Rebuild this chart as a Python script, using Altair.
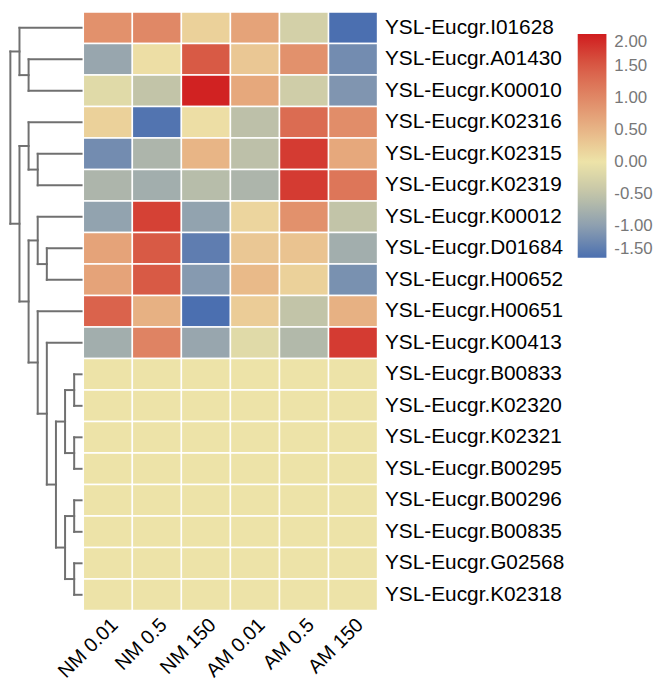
import altair as alt
import pandas as pd

genes = ["YSL-Eucgr.I01628", "YSL-Eucgr.A01430", "YSL-Eucgr.K00010", "YSL-Eucgr.K02316",
         "YSL-Eucgr.K02315", "YSL-Eucgr.K02319", "YSL-Eucgr.K00012", "YSL-Eucgr.D01684",
         "YSL-Eucgr.H00652", "YSL-Eucgr.H00651", "YSL-Eucgr.K00413", "YSL-Eucgr.B00833",
         "YSL-Eucgr.K02320", "YSL-Eucgr.K02321", "YSL-Eucgr.B00295", "YSL-Eucgr.B00296",
         "YSL-Eucgr.B00835", "YSL-Eucgr.G02568", "YSL-Eucgr.K02318"]
conditions = ["NM 0.01", "NM 0.5", "NM 150", "AM 0.01", "AM 0.5", "AM 150"]

zeros = [0.0] * 8
nm_001 = [0.9, -0.9, -0.15, 0.2, -1.2, -0.7, -0.95, 0.7, 0.7, 1.4, -0.8] + zeros
nm_05 = [1.0, 0.05, -0.5, -1.45, -0.7, -0.8, 1.7, 1.5, 1.5, 0.55, 1.05] + zeros
nm_150 = [0.2, 1.5, 1.95, 0.05, 0.5, -0.6, -0.95, -1.35, -1.05, -1.5, -0.9] + zeros
am_001 = [0.7, 0.3, 0.65, -0.55, -0.55, -0.7, 0.15, 0.3, 0.45, 0.25, -0.15] + zeros
am_05 = [-0.3, 0.9, -0.35, 1.3, 1.75, 1.75, 0.9, 0.35, 0.2, -0.5, -0.65] + zeros
am_150 = [-1.6, -1.2, -1.1, 0.95, 0.65, 1.2, -0.5, -0.8, -1.15, 0.55, 1.75] + zeros
series = [nm_001, nm_05, nm_150, am_001, am_05, am_150]

# dendrogram merges: leaves 0..18, new nodes numbered from 19 in order
merge_left = [1, 0, 4, 3, 7, 6, 11, 13, 25, 15, 17, 28, 27, 10, 9, 24, 22, 20]
merge_right = [2, 19, 5, 21, 8, 23, 12, 14, 26, 16, 18, 29, 30, 31, 32, 33, 34, 35]
merge_height = [6, 7, 5, 6, 4, 5, 1, 1, 2, 1, 1, 2, 3, 4, 5, 6, 7, 8]

color_stops = [-1.5, -1.0, -0.5, 0.0, 0.5, 1.0, 1.5, 2.0]
color_range = ["#4b6fb0", "#8d9fb0", "#c2c4a8", "#ede3a8", "#e8b586", "#e08866", "#d85a45", "#d01c1e"]

rows = []
for c, vals in zip(conditions, series):
    for g, v in zip(genes, vals):
        rows.append({"gene": g, "condition": c, "value": v})
df = pd.DataFrame(rows)

pos = {i: (i + 0.5, 0.0) for i in range(len(genes))}
segs = []
for k, (a, b, h) in enumerate(zip(merge_left, merge_right, merge_height)):
    ya, ha = pos[a]
    yb, hb = pos[b]
    segs.append({"x": h, "x2": h, "y": ya, "y2": yb})
    segs.append({"x": ha, "x2": h, "y": ya, "y2": ya})
    segs.append({"x": hb, "x2": h, "y": yb, "y2": yb})
    pos[len(genes) + k] = ((ya + yb) / 2, h)
seg_df = pd.DataFrame(segs)

H = 604

dendro = alt.Chart(seg_df).mark_rule(color="#707070", strokeWidth=2, strokeCap="square").encode(
    x=alt.X("x:Q", scale=alt.Scale(domain=[0, 8.15], reverse=True, nice=False, zero=False), axis=None),
    x2="x2:Q",
    y=alt.Y("y:Q", scale=alt.Scale(domain=[0, len(genes)], reverse=True, nice=False, zero=False), axis=None),
    y2="y2:Q",
).properties(width=75, height=H)

heat = alt.Chart(df).mark_rect(stroke="white", strokeWidth=1.5).encode(
    x=alt.X("condition:N", sort=conditions, scale=alt.Scale(paddingInner=0, paddingOuter=0),
            axis=alt.Axis(title=None, labelAngle=-45, labelFontSize=20, labelColor="black",
                          ticks=False, domain=False, labelPadding=4, labelLimit=0)),
    y=alt.Y("gene:N", sort=genes, scale=alt.Scale(paddingInner=0, paddingOuter=0),
            axis=alt.Axis(title=None, orient="right", labelFontSize=21, labelColor="black",
                          ticks=False, domain=False, labelPadding=7, labelLimit=0)),
    color=alt.Color("value:Q",
                    scale=alt.Scale(domain=color_stops, range=color_range, clamp=True, interpolate="rgb"),
                    legend=alt.Legend(orient="none", legendX=574, legendY=22, title=None,
                                      direction="vertical", gradientLength=226, gradientThickness=29,
                                      values=color_stops, labelFontSize=17, labelColor="#777777",
                                      labelOffset=8, labelBaseline="middle", labelOverlap=False,
                                      gradientStrokeWidth=0,
                                      labelExpr="replace(format(datum.value, '.2f'), '\u2212', '-')")),
).properties(width=297, height=H)

chart = alt.hconcat(dendro, heat, spacing=0, bounds="flush").properties(
    padding={"left": 0, "top": 0, "right": 0, "bottom": 0}
).configure(font="Liberation Sans").configure_view(stroke=None)

chart.save("out.html", embed_options={"renderer": "svg", "actions": False})
